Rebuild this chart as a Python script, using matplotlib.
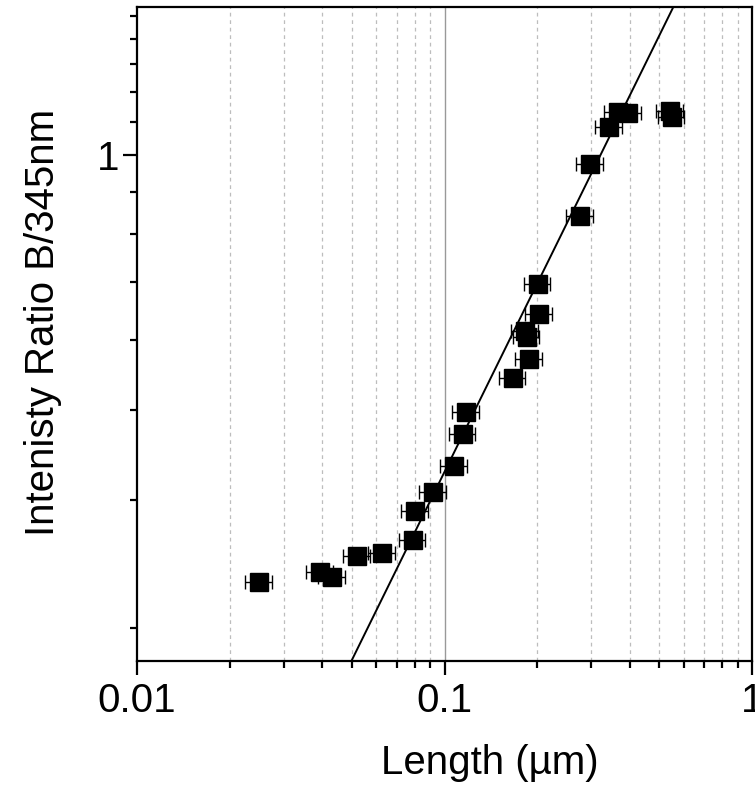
import matplotlib
matplotlib.use("Agg")
import matplotlib.pyplot as plt
import numpy as np
from matplotlib.ticker import FixedLocator, NullFormatter, FixedFormatter

plt.rcParams["font.family"] = ["Liberation Sans", "DejaVu Sans"]

# Measured rod lengths (um) and blue/345nm intensity ratios
length_um = [0.0249, 0.0394, 0.0431, 0.0519, 0.0626, 0.0788, 0.0802, 0.0916,
             0.1076, 0.1146, 0.1175, 0.1667, 0.1887, 0.1831, 0.1850, 0.2034,
             0.2010, 0.2759, 0.2973, 0.3428, 0.3675, 0.3960, 0.5410, 0.5480]
intensity_ratio = [0.257, 0.265, 0.261, 0.279, 0.282, 0.294, 0.3215, 0.3425,
                   0.371, 0.412, 0.441, 0.491, 0.522, 0.5705, 0.560, 0.602,
                   0.662, 0.824, 0.972, 1.092, 1.147, 1.142, 1.150, 1.129]
length_rel_err = 0.10

# Power-law fit  ratio = amp * length**expo
fit_amp = 2.66
fit_expo = 0.863

x_major = [0.01, 0.1, 1]
x_major_labels = ["0.01", "0.1", "1"]
x_minor = [m * d for d in (0.01, 0.1) for m in range(2, 10)]
y_major = [1]
y_major_labels = ["1"]
y_minor = [k / 9 for k in range(2, 15) if k != 9]

fig = plt.figure(figsize=(7.55, 7.86), dpi=100)
ax = fig.add_axes([137 / 755, 1 - 660.7 / 786, 615 / 755, 653.7 / 786])
ax.set_xscale("log")
ax.set_yscale("log")
ax.set_xlim(0.01, 1)
ax.set_ylim(0.2, 1.6)

# grid lines
for xv in x_minor:
    ax.axvline(xv, color="#bdbdbd", lw=0.9, ls=(0, (3, 3)), zorder=0)
ax.axvline(0.1, color="#999999", lw=1.0, zorder=0)

xs = np.array(length_um)
ys = np.array(intensity_ratio)
ax.errorbar(xs, ys, xerr=length_rel_err * xs, fmt="s", color="black",
            ms=13.5, mec="black", mfc="black", ecolor="black",
            elinewidth=1.0, capsize=5, capthick=1.0, zorder=3)

xf = np.logspace(-2, 0, 200)
ax.plot(xf, fit_amp * xf ** fit_expo, color="black", lw=1.4, zorder=2)

ax.xaxis.set_major_locator(FixedLocator(x_major))
ax.xaxis.set_major_formatter(FixedFormatter(x_major_labels))
ax.xaxis.set_minor_locator(FixedLocator(x_minor))
ax.xaxis.set_minor_formatter(NullFormatter())
ax.yaxis.set_major_locator(FixedLocator(y_major))
ax.yaxis.set_major_formatter(FixedFormatter(y_major_labels))
ax.yaxis.set_minor_locator(FixedLocator(y_minor))
ax.yaxis.set_minor_formatter(NullFormatter())

for s in ax.spines.values():
    s.set_linewidth(1.6)
ax.tick_params(which="major", length=10, width=1.6, labelsize=29, pad=5)
ax.tick_params(which="minor", length=5, width=1.6)
ax.tick_params(axis="y", which="major", pad=3)

ax.set_xlabel("Length (\u00b5m)", fontsize=29)
ax.xaxis.set_label_coords(0.574, -0.128)
ax.set_ylabel("Intenisty Ratio B/345nm", fontsize=29)
ax.yaxis.set_label_coords(-0.122, 0.518)

fig.savefig("out.png", dpi=100)
